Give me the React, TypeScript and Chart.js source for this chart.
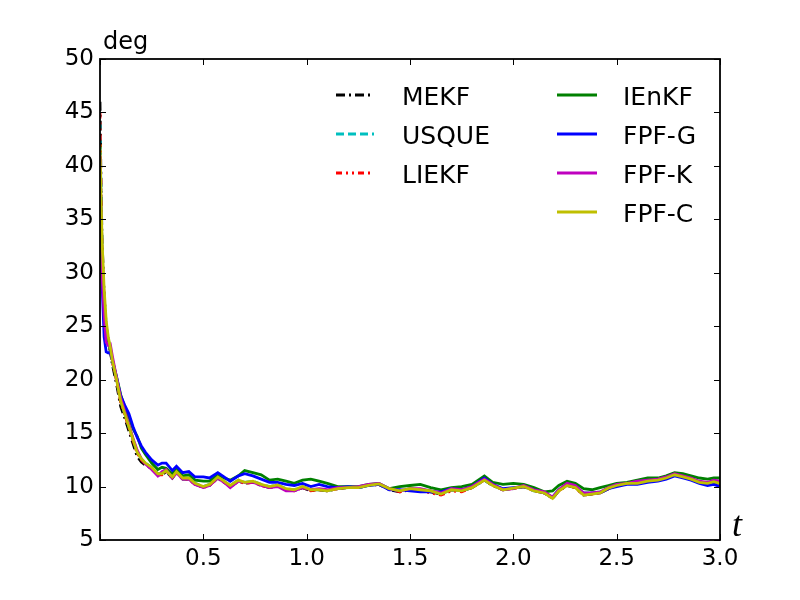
import React, { useEffect, useRef } from "react";
import { Chart, registerables } from "chart.js";

Chart.register(...registerables);

const T = [0, 0.005, 0.01, 0.02, 0.03, 0.04, 0.05, 0.06, 0.08, 0.1, 0.12, 0.14, 0.16, 0.18, 0.2, 0.22, 0.25, 0.28, 0.3, 0.32, 0.35, 0.37, 0.4, 0.43, 0.46, 0.5, 0.53, 0.57, 0.6, 0.63, 0.67, 0.7, 0.74, 0.78, 0.82, 0.86, 0.9, 0.94, 0.98, 1.02, 1.06, 1.1, 1.15, 1.2, 1.25, 1.3, 1.35, 1.4, 1.45, 1.5, 1.55, 1.6, 1.65, 1.7, 1.75, 1.8, 1.86, 1.9, 1.95, 2.0, 2.05, 2.1, 2.15, 2.19, 2.22, 2.26, 2.3, 2.34, 2.38, 2.42, 2.46, 2.5, 2.55, 2.6, 2.65, 2.7, 2.74, 2.78, 2.82, 2.86, 2.9, 2.94, 2.97, 3.0];

const MEKF = [46, 38, 33, 28, 25, 23.6, 22.6, 21.4, 19.6, 17.5, 16.4, 15.2, 14.0, 12.8, 12.3, 12.0, 11.7, 11.1, 11.1, 11.4, 10.8, 11.3, 10.7, 10.7, 10.2, 9.95, 10.1, 10.8, 10.4, 10.0, 10.5, 10.3, 10.4, 10.1, 9.9, 10.1, 9.7, 9.6, 9.9, 9.6, 9.7, 9.6, 9.8, 9.9, 9.9, 10.1, 10.2, 9.7, 9.5, 9.7, 9.6, 9.5, 9.3, 9.7, 9.6, 9.9, 10.6, 10.1, 9.7, 9.8, 10.0, 9.6, 9.4, 8.9, 9.6, 10.1, 9.9, 9.2, 9.3, 9.4, 9.8, 10.1, 10.3, 10.3, 10.5, 10.6, 10.8, 11.1, 10.9, 10.7, 10.4, 10.3, 10.4, 10.3];
const USQUE = [44, 37, 32, 27.5, 25, 23.8, 22.9, 21.8, 20.0, 18.0, 16.8, 15.6, 14.4, 13.2, 12.6, 12.2, 11.8, 11.2, 11.2, 11.5, 10.9, 11.4, 10.8, 10.8, 10.3, 10.0, 10.2, 10.9, 10.5, 10.1, 10.6, 10.4, 10.5, 10.2, 10.0, 10.15, 9.8, 9.7, 10.0, 9.7, 9.7, 9.6, 9.8, 9.9, 9.9, 10.1, 10.25, 9.8, 9.6, 9.8, 9.7, 9.6, 9.3, 9.7, 9.6, 9.9, 10.6, 10.1, 9.7, 9.85, 10.0, 9.6, 9.4, 9.0, 9.7, 10.2, 10.0, 9.4, 9.4, 9.5, 9.85, 10.1, 10.3, 10.3, 10.5, 10.6, 10.8, 11.1, 10.9, 10.7, 10.4, 10.3, 10.45, 10.3];
const LIEKF = [45, 37, 32, 27.5, 25, 23.7, 22.8, 21.6, 19.9, 17.9, 16.7, 15.5, 14.3, 13.1, 12.5, 12.1, 11.7, 11.1, 11.1, 11.4, 10.8, 11.3, 10.7, 10.7, 10.2, 9.9, 10.1, 10.8, 10.4, 10.0, 10.5, 10.3, 10.4, 10.1, 9.9, 10.1, 9.7, 9.6, 9.9, 9.6, 9.7, 9.6, 9.8, 9.9, 9.9, 10.1, 10.2, 9.8, 9.5, 9.7, 9.6, 9.4, 9.2, 9.6, 9.5, 9.9, 10.6, 10.1, 9.7, 9.8, 10.0, 9.6, 9.4, 8.9, 9.6, 10.1, 9.9, 9.2, 9.3, 9.4, 9.8, 10.1, 10.3, 10.3, 10.5, 10.6, 10.8, 11.1, 10.9, 10.7, 10.4, 10.3, 10.4, 10.3];
const IENKF = [40, 35, 31, 27, 24.5, 23.5, 22.8, 21.8, 20.3, 18.6, 17.4, 16.5, 15.4, 14.7, 13.6, 13.0, 12.2, 11.6, 11.8, 11.7, 11.2, 11.6, 11.0, 11.1, 10.6, 10.5, 10.5, 11.1, 10.8, 10.6, 11.0, 11.5, 11.3, 11.1, 10.6, 10.7, 10.5, 10.3, 10.6, 10.7, 10.5, 10.3, 10.0, 10.0, 10.0, 10.2, 10.3, 9.8, 10.0, 10.1, 10.2, 9.9, 9.7, 9.9, 10.0, 10.2, 11.0, 10.4, 10.2, 10.3, 10.2, 9.9, 9.5, 9.6, 10.1, 10.5, 10.3, 9.8, 9.7, 9.9, 10.1, 10.3, 10.4, 10.6, 10.8, 10.8, 11.0, 11.3, 11.2, 11.0, 10.8, 10.7, 10.8, 10.8];
const FPFG = [41, 34, 29, 24, 22.6, 22.5, 22.6, 21.8, 20.2, 18.5, 17.6, 16.8, 15.6, 14.6, 13.8, 13.2, 12.5, 12.0, 12.2, 12.2, 11.5, 11.9, 11.3, 11.4, 10.9, 10.9, 10.8, 11.3, 10.9, 10.5, 11.0, 11.2, 11.0, 10.7, 10.4, 10.4, 10.2, 10.1, 10.3, 10.0, 10.2, 10.0, 9.9, 10.0, 9.9, 10.1, 10.2, 9.7, 9.7, 9.6, 9.5, 9.5, 9.5, 9.8, 9.7, 10.0, 10.8, 10.2, 9.8, 9.9, 10.0, 9.7, 9.4, 9.0, 9.7, 10.2, 10.0, 9.3, 9.4, 9.4, 9.8, 10.0, 10.2, 10.2, 10.4, 10.5, 10.7, 11.0, 10.8, 10.6, 10.3, 10.1, 10.2, 10.0];
const FPFK = [41, 35, 30, 26, 23.5, 23.2, 23.3, 22.2, 20.2, 18.3, 17.0, 15.8, 14.5, 13.4, 12.6, 12.1, 11.6, 11.0, 11.4, 11.6, 10.8, 11.3, 10.7, 10.7, 10.2, 9.9, 10.1, 10.8, 10.4, 9.9, 10.5, 10.4, 10.4, 10.1, 9.9, 10.0, 9.6, 9.6, 9.9, 9.7, 9.8, 9.7, 9.9, 9.9, 10.0, 10.2, 10.3, 9.8, 9.6, 9.8, 9.8, 9.6, 9.4, 9.8, 9.7, 10.0, 10.7, 10.2, 9.7, 9.8, 10.1, 9.7, 9.5, 9.0, 9.7, 10.3, 10.1, 9.4, 9.4, 9.5, 9.9, 10.2, 10.3, 10.5, 10.6, 10.7, 10.9, 11.2, 11.0, 10.8, 10.5, 10.4, 10.6, 10.5];
const FPFC = [42, 37, 33, 28.5, 25.5, 24, 23, 21.8, 20.0, 18.0, 16.8, 15.6, 14.4, 13.2, 12.6, 12.2, 11.8, 11.2, 11.2, 11.5, 10.9, 11.4, 10.8, 10.8, 10.3, 10.0, 10.2, 10.9, 10.5, 10.1, 10.6, 10.4, 10.5, 10.2, 10.0, 10.15, 9.8, 9.7, 10.0, 9.7, 9.7, 9.6, 9.8, 9.9, 9.9, 10.1, 10.25, 9.8, 9.6, 9.8, 9.7, 9.6, 9.3, 9.7, 9.6, 9.9, 10.6, 10.1, 9.7, 9.85, 10.0, 9.6, 9.4, 8.9, 9.6, 10.1, 9.9, 9.2, 9.3, 9.4, 9.85, 10.1, 10.3, 10.3, 10.5, 10.6, 10.8, 11.1, 10.9, 10.7, 10.4, 10.3, 10.45, 10.3];

const SERIES_NAMES = ["MEKF", "USQUE", "LIEKF", "IEnKF", "FPF-G", "FPF-K", "FPF-C"];
const SERIES_VALUES = [MEKF, USQUE, LIEKF, IENKF, FPFG, FPFK, FPFC];
const SERIES_COLORS = ["#000000", "#00bfbf", "#ff0000", "#008000", "#0000ff", "#bf00bf", "#bfbf00"];
const SERIES_DASH: number[][] = [[9, 4, 2, 4], [8, 4], [6, 4, 2, 4, 2, 4], [], [], [], []];

const X_TICKS = [0, 0.5, 1.0, 1.5, 2.0, 2.5, 3.0];
const Y_TICKS = [5, 10, 15, 20, 25, 30, 35, 40, 45, 50];

const FONT = "'DejaVu Sans', sans-serif";

const decorPlugin = {
  id: "decor",
  afterDatasetsDraw(chart: any) {
    const { ctx, chartArea, scales } = chart;
    const { left, right, top, bottom } = chartArea;
    ctx.save();
    ctx.strokeStyle = "#000";
    ctx.lineWidth = 1;
    const tl = 6;
    ctx.beginPath();
    for (const v of X_TICKS) {
      const px = Math.round(scales.x.getPixelForValue(v)) + 0.5;
      ctx.moveTo(px, bottom);
      ctx.lineTo(px, bottom - tl);
      ctx.moveTo(px, top);
      ctx.lineTo(px, top + tl);
    }
    for (const v of Y_TICKS) {
      const py = Math.round(scales.y.getPixelForValue(v)) + 0.5;
      ctx.moveTo(left, py);
      ctx.lineTo(left + tl, py);
      ctx.moveTo(right, py);
      ctx.lineTo(right - tl, py);
    }
    ctx.stroke();
    ctx.lineWidth = 1.8;
    ctx.strokeRect(left, top, right - left, bottom - top);

    // legend
    const rows = [36, 75, 114, 153];
    const cols = [
      { x0: 336, x1: 374, tx: 402 },
      { x0: 557, x1: 597, tx: 623 },
    ];
    ctx.font = `25px ${FONT}`;
    ctx.textBaseline = "alphabetic";
    ctx.textAlign = "left";
    SERIES_NAMES.forEach((name, i) => {
      const col = i < 3 ? cols[0] : cols[1];
      const row = i < 3 ? rows[i] : rows[i - 3];
      const y = top + row;
      ctx.beginPath();
      ctx.setLineDash(SERIES_DASH[i]);
      ctx.strokeStyle = SERIES_COLORS[i];
      ctx.lineWidth = 3;
      ctx.moveTo(col.x0, y);
      ctx.lineTo(col.x1, y);
      ctx.stroke();
      ctx.setLineDash([]);
      ctx.fillStyle = "#000";
      ctx.fillText(name, col.tx, y + 10);
    });

    // axis titles
    ctx.font = `24px ${FONT}`;
    ctx.fillStyle = "#000";
    ctx.fillText("deg", left + 3, top - 10);
    ctx.font = "italic 36px 'Liberation Serif', serif";
    ctx.fillText("t", right + 12, bottom - 4);
    ctx.restore();
  },
};

export default function App() {
  const ref = useRef<HTMLCanvasElement | null>(null);
  useEffect(() => {
    if (!ref.current) return;
    const datasets = SERIES_NAMES.map((name, i) => ({
      label: name,
      data: T.map((t, k) => ({ x: t, y: SERIES_VALUES[i][k] })),
      borderColor: SERIES_COLORS[i],
      backgroundColor: SERIES_COLORS[i],
      borderWidth: 2.8,
      borderDash: SERIES_DASH[i],
      pointRadius: 0,
      tension: 0,
      fill: false,
      order: SERIES_NAMES.length - i,
    }));
    const chart = new Chart(ref.current, {
      type: "line",
      data: { datasets },
      options: {
        animation: false,
        responsive: false,
        devicePixelRatio: 1,
        layout: { padding: { left: 0, top: 59, right: 80, bottom: 0 } },
        plugins: { legend: { display: false }, tooltip: { enabled: false } },
        scales: {
          x: {
            type: "linear",
            min: 0,
            max: 3,
            afterFit: (s: any) => {
              s.height = 60;
            },
            afterBuildTicks: (s: any) => {
              s.ticks = X_TICKS.map((v) => ({ value: v }));
            },
            grid: { display: false, drawTicks: false, tickLength: 0 },
            border: { display: false },
            ticks: {
              color: "#000",
              font: { family: FONT, size: 23 },
              padding: 5,
              maxRotation: 0,
              autoSkip: false,
              callback: (v: any) => (Number(v) === 0 ? "" : Number(v).toFixed(1)),
            },
          },
          y: {
            type: "linear",
            min: 5,
            max: 50,
            afterFit: (s: any) => {
              s.width = 100;
            },
            afterBuildTicks: (s: any) => {
              s.ticks = Y_TICKS.map((v) => ({ value: v }));
            },
            grid: { display: false, drawTicks: false, tickLength: 0 },
            border: { display: false },
            ticks: {
              color: "#000",
              font: { family: FONT, size: 23 },
              padding: 6,
              autoSkip: false,
              callback: (v: any) => String(v),
            },
          },
        },
      },
      plugins: [decorPlugin],
    });
    return () => chart.destroy();
  }, []);
  return (
    <div style={{ position: "absolute", left: 0, top: 0, width: 800, height: 600, background: "#fff" }}>
      <canvas ref={ref} width={800} height={600} />
    </div>
  );
}
